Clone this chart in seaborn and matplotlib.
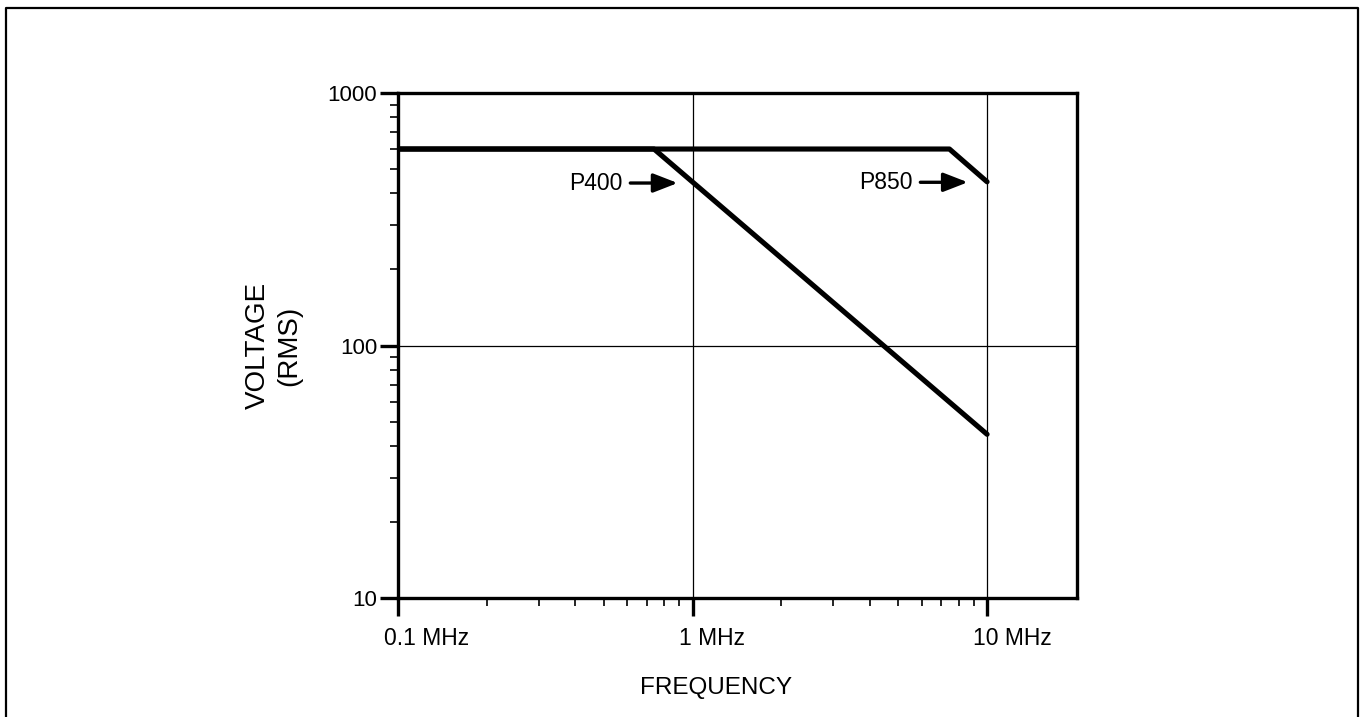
import matplotlib
matplotlib.use("Agg")
import matplotlib.pyplot as plt
import matplotlib.transforms as mtransforms
from matplotlib.lines import Line2D
import seaborn as sns
import pandas as pd
import numpy as np

# ---- data ----
p400_freq = [0.1, 0.74, 10.0]      # MHz
p400_volt = [600, 600, 44.5]       # V rms
p850_freq = [0.1, 7.45, 10.0]
p850_volt = [600, 600, 445]
probe_names = ["P400", "P850"]
x_tick_vals = [0.1, 1, 10]
x_tick_labels = ["0.1 MHz", "1 MHz", "10 MHz"]
y_tick_vals = [10, 100, 1000]
y_tick_labels = ["10", "100", "1000"]
# annotation anchors: (text x, arrow tip x, y)
p400_note = (0.58, 0.89, 440)
p850_note = (5.6, 8.6, 443)

df = pd.DataFrame({
    "freq": p400_freq + p850_freq,
    "volt": p400_volt + p850_volt,
    "probe": [probe_names[0]] * len(p400_freq) + [probe_names[1]] * len(p850_freq),
})

sns.set_style("white")
plt.rcParams["font.family"] = ["Liberation Sans", "DejaVu Sans"]

W, H = 1361, 717
fig = plt.figure(figsize=(W / 100, H / 100), dpi=100)
L, R, T, B = 398, 1077, 93, 598
ax = fig.add_axes([L / W, 1 - B / H, (R - L) / W, (B - T) / H])

sns.lineplot(data=df, x="freq", y="volt", hue="probe",
             palette=["black", "black"], estimator=None, legend=False,
             linewidth=3.7, ax=ax, zorder=5)

ax.set_xscale("log")
ax.set_yscale("log")
ax.set_xlim(0.1, 20.2)
ax.set_ylim(10, 1000)

ax.set_xticks(x_tick_vals)
ax.set_xticklabels(x_tick_labels, fontsize=16.5, ha="left")
ax.set_xticks([k * 10.0 ** d for d in (-1, 0) for k in range(2, 10)], minor=True)
ax.xaxis.set_minor_formatter(matplotlib.ticker.NullFormatter())

ax.set_yticks(y_tick_vals)
ax.set_yticklabels(y_tick_labels, fontsize=16)
ax.set_yticks([k * 10.0 ** d for d in (1, 2) for k in range(2, 10)], minor=True)
ax.yaxis.set_minor_formatter(matplotlib.ticker.NullFormatter())

ax.tick_params(axis="both", which="both", bottom=True, left=True,
               top=False, right=False)
ax.tick_params(axis="both", which="major", direction="out", length=13,
               width=2.4, color="black", labelcolor="black")
ax.tick_params(axis="x", which="major", pad=8)
ax.tick_params(axis="y", which="major", pad=2)
ax.tick_params(axis="both", which="minor", direction="out", length=6,
               width=1.2, color="black")

for s in ax.spines.values():
    s.set_color("black")
    s.set_linewidth(2.4)
    s.set_visible(True)

ax.grid(False)
for xv in [1, 10]:
    ax.axvline(xv, color="black", linewidth=0.9, zorder=1)
ax.axhline(100, color="black", linewidth=0.9, zorder=1)

ax.set_xlabel("FREQUENCY", fontsize=17.5, color="black")
ax.xaxis.set_label_coords(0.468, -0.157)
ax.xaxis.label.set_va("top")
ax.set_ylabel("VOLTAGE\n(RMS)", fontsize=20, color="black", linespacing=1.25,
              multialignment="center")
ax.yaxis.set_label_coords(-0.141, 0.5)

arrow = dict(arrowstyle="-|>,head_length=0.9,head_width=0.35", color="black",
             lw=2.4, shrinkA=3, shrinkB=0)
for name, (tx, ax_tip, yv) in zip(probe_names, [p400_note, p850_note]):
    ax.annotate(name, xy=(ax_tip, yv), xytext=(tx, yv), ha="right", va="center",
                fontsize=16.5, color="black", arrowprops=arrow, zorder=6)

# shift x tick labels slightly left of their ticks (after all tick_params calls)
offset = mtransforms.ScaledTranslation(-14 / 100, 0, fig.dpi_scale_trans)
for lab in ax.get_xticklabels():
    lab.set_transform(lab.get_transform() + offset)

# outer frame of the figure (bottom edge cut off)
fx0, fx1, fy1 = 6 / W, 1358 / W, 1 - 8 / H
fig.add_artist(Line2D([fx0, fx0, fx1, fx1], [0, fy1, fy1, 0],
                      transform=fig.transFigure, color="black", linewidth=1.6))

fig.savefig("out.png", dpi=100, facecolor="white")
